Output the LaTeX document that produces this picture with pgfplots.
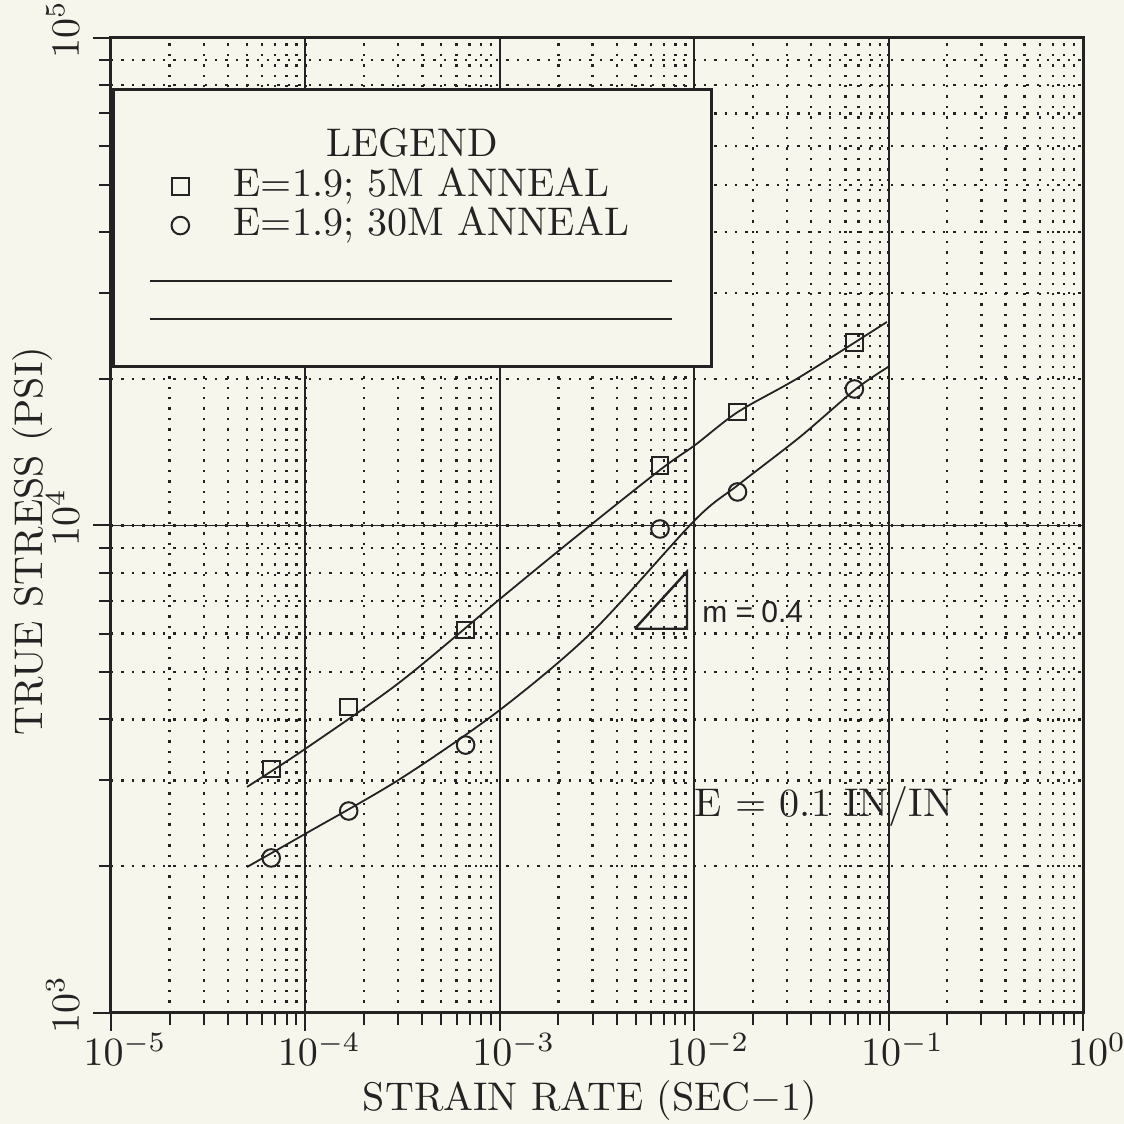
\documentclass[border=0pt]{standalone}
\usepackage{fontspec}
\usepackage{pgfplots}
\pgfplotsset{compat=1.18}
\newfontfamily\helv{Liberation Sans}
\definecolor{bg}{RGB}{247,246,236}
\definecolor{ink}{RGB}{35,35,35}

\begin{document}
\begin{tikzpicture}
\fill[bg] (-27.75pt,-27.75pt) rectangle (253.25pt,253.25pt);
\begin{axis}[
  at={(0pt,0pt)}, anchor=south west,
  scale only axis, width=243pt, height=243.75pt,
  xmode=log, ymode=log,
  xmin=1e-5, xmax=1, ymin=1e3, ymax=1e5,
  axis line style={ink, line width=0.75pt},
  tick align=outside, xtick pos=bottom, ytick pos=left,
  major tick length=4.5pt, minor tick length=3pt,
  every tick/.append style={ink, line width=0.5pt},
  grid=both,
  major grid style={ink, line width=0.45pt, solid},
  minor grid style={ink, line width=0.6pt, dotted},
  tick label style={font=\fontsize{10}{12}\selectfont, text=ink},
  xticklabel style={xshift=3.5pt, yshift=3pt},
  yticklabel style={rotate=90, anchor=south, xshift=2pt},
  xlabel={STRAIN RATE (SEC$-$1)},
  ylabel={TRUE STRESS (PSI)},
  label style={font=\fontsize{10}{12}\selectfont, text=ink},
  xlabel style={at={(axis description cs:0.493,-0.09)}, anchor=center},
  ylabel style={at={(axis description cs:-0.081,0.484)}, anchor=center},
  legend style={at={(rel axis cs:0.0623,0.8676)}, anchor=north west,
    draw=none, fill=none, inner sep=0pt, outer sep=0pt,
    font=\fontsize{10}{12}\selectfont, text=ink, row sep=0pt,
    nodes={inner sep=0pt, text height=7.25pt, text depth=2.5pt},
    /tikz/every odd column/.append style={column sep=11.15pt}},
  legend cell align=left,
  legend image code/.code={\draw[mark repeat=2,mark phase=2] plot coordinates {(0pt,0pt)(6pt,0pt)(12pt,0pt)};},
]
% legend box (covers grid)
\draw[ink, line width=0.75pt, fill=bg] (rel axis cs:0.003,0.6626) rectangle (rel axis cs:0.618,0.9467);
\draw[ink, line width=0.6pt] (rel axis cs:0.0401,0.7508) -- (rel axis cs:0.5772,0.7508);
\draw[ink, line width=0.6pt] (rel axis cs:0.0401,0.7118) -- (rel axis cs:0.5772,0.7118);
\node[font=\fontsize{10}{12}\selectfont, text=ink] at (rel axis cs:0.3097,0.8923) {LEGEND};

% fitted curves
\addplot[ink, line width=0.45pt, smooth, no marks, forget plot] coordinates {
 (5.01e-5,2909) (9.95e-5,3479) (3.07e-4,4775) (1.0e-3,7063) (2.35e-3,9335)
 (6.67e-3,13000) (1.01e-2,14620) (1.68e-2,17100) (3.5e-2,20170) (9.8e-2,26150)};
\addplot[ink, line width=0.45pt, smooth, no marks, forget plot] coordinates {
 (5.01e-5,1993) (9.95e-5,2329) (3.07e-4,3020) (1.0e-3,4183) (3.02e-3,6076)
 (1.01e-2,10264) (1.68e-2,12105) (3.5e-2,15190) (6.79e-2,19055) (9.93e-2,21130)};

% data
\addplot[ink, only marks, mark=square, mark size=2.1pt, mark options={line width=0.5pt}] coordinates {
 (6.67e-5,3167) (1.67e-4,4243) (6.67e-4,6104) (6.67e-3,13250) (1.67e-2,17090) (6.67e-2,23770)};
\addlegendentry{E=1.9; 5M ANNEAL}
\addplot[ink, only marks, mark=o, mark size=2.2pt, mark options={line width=0.5pt}] coordinates {
 (6.67e-5,2080) (1.67e-4,2596) (6.67e-4,3545) (6.67e-3,9836) (1.67e-2,11716) (6.67e-2,19055)};
\addlegendentry{E=1.9; 30M ANNEAL}

% slope triangle
\addplot[ink, line width=0.6pt, no marks, forget plot] coordinates {
 (4.95e-3,6140) (9.18e-3,6140) (9.18e-3,8040) (4.95e-3,6140)};
\node[anchor=west, inner sep=0pt, font=\helv\fontsize{7.5}{9}\selectfont, text=ink] at (axis cs:1.09e-2,6650) {m = 0.4};
\node[anchor=west, inner sep=0pt, font=\fontsize{10}{12}\selectfont, text=ink] at (axis cs:1e-2,2646) {E = 0.1 IN/IN};
\end{axis}
\pgfresetboundingbox
\path (-27.75pt,-27.75pt) rectangle (253.25pt,253.25pt);
\end{tikzpicture}
\end{document}
